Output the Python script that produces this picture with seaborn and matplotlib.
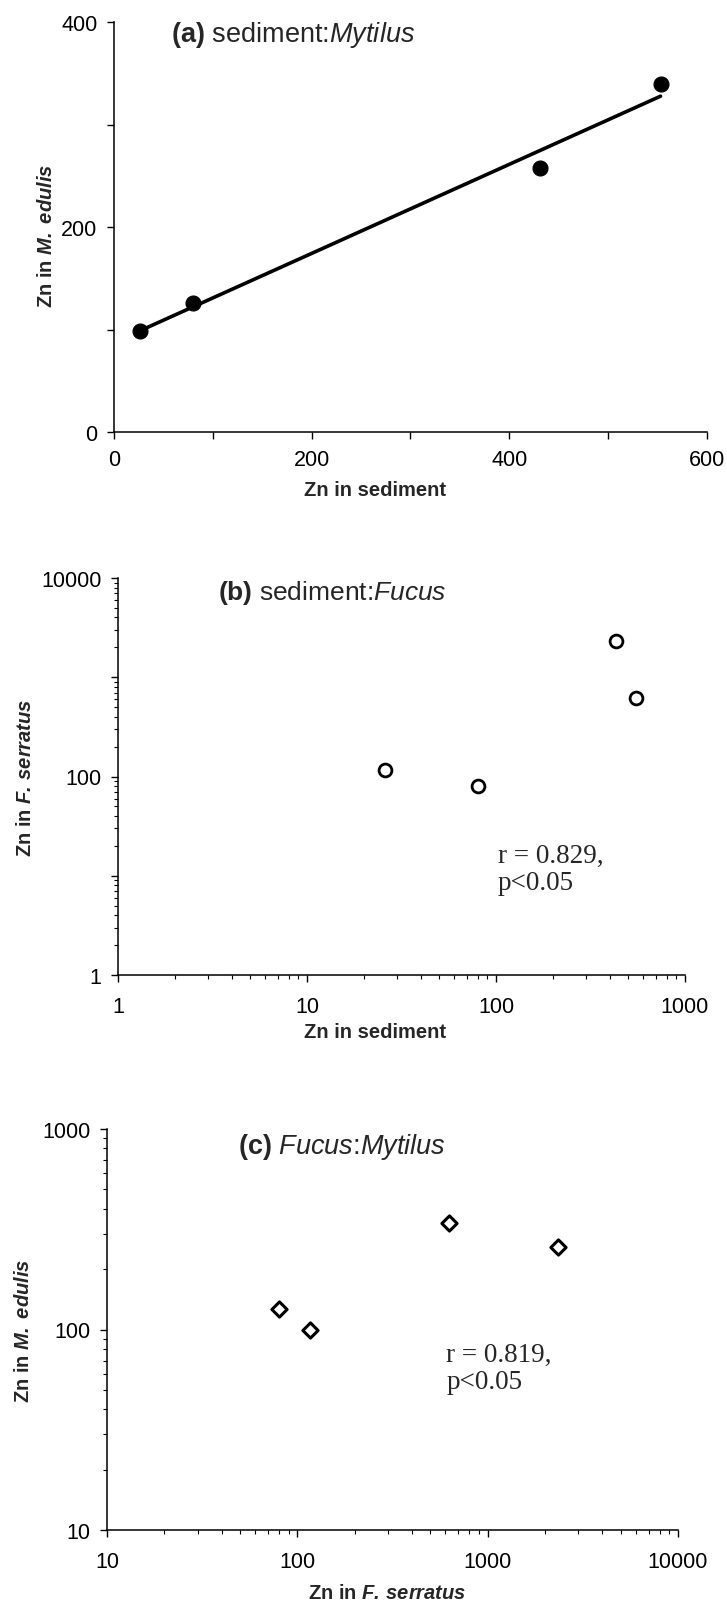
import numpy as np
import matplotlib
matplotlib.use('Agg')
import matplotlib.pyplot as plt
import seaborn as sns

# Zn concentrations (same four sites in every panel)
zn_sediment = [26, 80, 431, 553]
zn_mytilus = [99, 126, 258, 340]
zn_fucus = [116, 80, 2330, 625]

lin_ticks_x = [0, 100, 200, 300, 400, 500, 600]
lin_labels_x = ['0', '', '200', '', '400', '', '600']
lin_ticks_y = [0, 100, 200, 300, 400]
lin_labels_y = ['0', '', '200', '', '400']

b_ticks_x = [1, 10, 100, 1000]
b_labels_x = ['1', '10', '100', '1000']
b_ticks_y = [1, 10, 100, 1000, 10000]
b_labels_y = ['1', '', '100', '', '10000']

c_ticks_x = [10, 100, 1000, 10000]
c_labels_x = ['10', '100', '1000', '10000']
c_ticks_y = [10, 100, 1000]
c_labels_y = ['10', '100', '1000']

sns.set_style('ticks')
plt.rcParams['font.family'] = ['Liberation Sans', 'DejaVu Sans']
plt.rcParams['mathtext.fontset'] = 'custom'
plt.rcParams['mathtext.rm'] = 'Liberation Sans'
plt.rcParams['mathtext.it'] = 'Liberation Sans:italic'
plt.rcParams['mathtext.bf'] = 'Liberation Sans:bold'
plt.rcParams['mathtext.bfit'] = 'Liberation Sans:bold:italic'

fig = plt.figure(figsize=(7.27, 16.08), dpi=100)
W, H = 727, 1608


def add_ax(left, right, top, bottom):
    return fig.add_axes([left / W, 1 - bottom / H, (right - left) / W, (bottom - top) / H])


ax_a = add_ax(114, 707, 23, 433)
ax_b = add_ax(118, 685, 579, 976)
ax_c = add_ax(107, 678, 1130, 1531)

tick_fs = 15.5
label_fs = 14.5
title_fs = 19.5
note_fs = 19.5

mytilus_label = r'Zn in $\mathbfit{M.}$ $\mathbfit{edulis}$'
fucus_label = r'Zn in $\mathbfit{F.\,serratus}$'

for ax in (ax_a, ax_b, ax_c):
    ax.set_facecolor('white')
    sns.despine(ax=ax)
    for sp in ('left', 'bottom'):
        ax.spines[sp].set_linewidth(1.1)
        ax.spines[sp].set_color('black')
    ax.tick_params(which='major', direction='out', length=5, width=1, colors='black',
                   labelsize=tick_fs, pad=7)
    ax.tick_params(which='minor', direction='out', length=3, width=0.8, colors='black')

# (a) sediment : Mytilus
sns.regplot(x=zn_sediment, y=zn_mytilus, ax=ax_a, ci=None, scatter=False, truncate=True,
            line_kws={'color': 'black', 'lw': 2.6, 'zorder': 2})
sns.scatterplot(x=zn_sediment, y=zn_mytilus, ax=ax_a, color='black', s=115,
                edgecolor='black', zorder=3)
ax_a.set_xlim(0, 600)
ax_a.set_ylim(0, 400)
ax_a.set_xticks(lin_ticks_x, labels=lin_labels_x)
ax_a.set_yticks(lin_ticks_y, labels=lin_labels_y)
ax_a.set_xlabel('Zn in sediment', fontsize=label_fs, fontweight='bold')
ax_a.set_ylabel(mytilus_label, fontsize=label_fs, fontweight='bold')
ax_a.xaxis.set_label_coords(0.44, -0.117)
ax_a.yaxis.set_label_coords(-0.098, 0.48)
ax_a.text(0.096, 0.97, r'$\mathbf{(a)}$ sediment:$\mathit{Mytilus}$', transform=ax_a.transAxes,
          fontsize=title_fs, ha='left', va='center')

# (b) sediment : Fucus
sns.scatterplot(x=zn_sediment, y=zn_fucus, ax=ax_b, marker='o', s=85,
                facecolor='white', edgecolor='black', linewidth=2.0, zorder=3)
ax_b.set_xscale('log')
ax_b.set_yscale('log')
ax_b.set_xlim(1, 1000)
ax_b.set_ylim(1, 10000)
ax_b.set_xticks(b_ticks_x, labels=b_labels_x)
ax_b.set_yticks(b_ticks_y, labels=b_labels_y)
ax_b.tick_params(axis='x', which='major', pad=10)
ax_b.set_xlabel('Zn in sediment', fontsize=label_fs, fontweight='bold')
ax_b.set_ylabel(fucus_label, fontsize=label_fs, fontweight='bold')
ax_b.xaxis.set_label_coords(0.453, -0.118)
ax_b.yaxis.set_label_coords(-0.146, 0.5)
ax_b.text(0.176, 0.965, r'$\mathbf{(b)}$ sediment:$\mathit{Fucus}$', transform=ax_b.transAxes,
          fontsize=title_fs - 0.5, ha='left', va='center')
ax_b.text(0.67, 0.267, 'r = 0.829,\np<0.05', transform=ax_b.transAxes, fontsize=note_fs,
          family='Liberation Serif', ha='left', va='center', linespacing=1.1)

# (c) Fucus : Mytilus
sns.scatterplot(x=zn_fucus, y=zn_mytilus, ax=ax_c, marker='D', s=60,
                facecolor='white', edgecolor='black', linewidth=2.2, zorder=3)
ax_c.set_xscale('log')
ax_c.set_yscale('log')
ax_c.set_xlim(10, 10000)
ax_c.set_ylim(10, 1000)
ax_c.set_xticks(c_ticks_x, labels=c_labels_x)
ax_c.set_yticks(c_ticks_y, labels=c_labels_y)
ax_c.tick_params(axis='x', which='major', pad=10)
ax_c.set_xlabel(fucus_label, fontsize=label_fs, fontweight='bold')
ax_c.set_ylabel(mytilus_label, fontsize=label_fs, fontweight='bold')
ax_c.xaxis.set_label_coords(0.49, -0.132)
ax_c.yaxis.set_label_coords(-0.130, 0.5)
ax_c.text(0.23, 0.958, r'$\mathbf{(c)}$ $\mathit{Fucus}$:$\mathit{Mytilus}$', transform=ax_c.transAxes,
          fontsize=title_fs, ha='left', va='center')
ax_c.text(0.594, 0.404, 'r = 0.819,\np<0.05', transform=ax_c.transAxes, fontsize=note_fs,
          family='Liberation Serif', ha='left', va='center', linespacing=1.1)

for ax in (ax_b, ax_c):
    ax.xaxis.set_minor_formatter(matplotlib.ticker.NullFormatter())
    ax.yaxis.set_minor_formatter(matplotlib.ticker.NullFormatter())

fig.savefig('out.png', dpi=100, facecolor='white')
